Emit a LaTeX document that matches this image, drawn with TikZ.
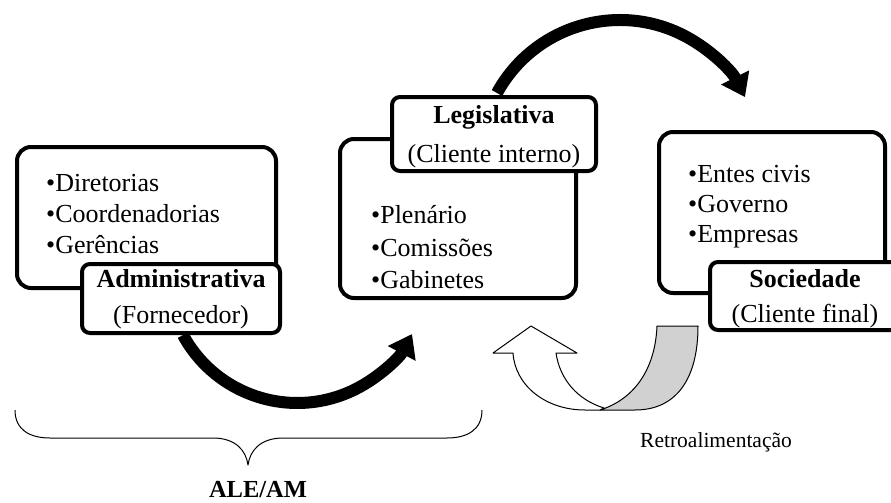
\documentclass[tikz,border=0pt]{standalone}
\usepackage{fontspec}
\setmainfont{Liberation Serif}
\usetikzlibrary{arrows.meta}
\definecolor{bandgray}{rgb}{0.82,0.82,0.82}
\begin{document}
\begin{tikzpicture}[x=1pt,y=-1pt,
  bigbox/.style={draw, line width=4pt, rounded corners=14pt, fill=white, inner sep=0pt},
  tagbox/.style={draw, line width=4pt, rounded corners=8pt, fill=white, inner sep=0pt},
  item/.style={anchor=base west, inner sep=0pt, font=\fontsize{26}{30}\selectfont},
  tagtitle/.style={anchor=base, inner sep=0pt, font=\fontsize{26}{30}\selectfont\bfseries},
  tagsub/.style={anchor=base, inner sep=0pt, font=\fontsize{26}{30}\selectfont},
  flow/.style={line width=12pt, -{Triangle[length=22pt,width=30pt]}},
  outline/.style={line width=1pt, line join=round}
]
\useasboundingbox (0,0) rectangle (891,503);

% thick flow arrows between the stages
\coordinate (f1s) at (183,335);
\coordinate (f2s) at (497,93);
\draw[flow] (f1s) arc[start angle=151.5, end angle=28, radius=130];
\draw[flow] (f2s) arc[start angle=208.6, end angle=333.3, radius=140];

% stage boxes
\node[bigbox, minimum width=259pt, minimum height=141pt] (admbox) at (146.5,217.5) {};
\node[bigbox, minimum width=236pt, minimum height=159pt] (legbox) at (458,218.5) {};
\node[bigbox, minimum width=226pt, minimum height=161pt] (socbox) at (772,212.5) {};

% stage contents
\node[item] (adm1) at (46,191) {•Diretorias};
\node[item] (adm2) at (46,222) {•Coordenadorias};
\node[item] (adm3) at (46,253) {•Gerências};

\node[item] (leg1) at (371,223) {•Plenário};
\node[item] (leg2) at (371,256) {•Comissões};
\node[item] (leg3) at (371,288) {•Gabinetes};

\node[item] (soc1) at (688,182) {•Entes civis};
\node[item] (soc2) at (688,212) {•Governo};
\node[item] (soc3) at (688,242) {•Empresas};

% stage tags
\node[tagbox, minimum width=198pt, minimum height=69pt] (admtag) at (181,298.5) {};
\node[tagtitle] (admt) at (181,287) {Administrativa};
\node[tagsub] (adms) at (181,323) {(Fornecedor)};

\node[tagbox, minimum width=204pt, minimum height=74pt] (legtag) at (494,134) {};
\node[tagtitle] (legt) at (494,123) {Legislativa};
\node[tagsub] (legs) at (494,162) {(Cliente interno)};

\node[tagbox, minimum width=190pt, minimum height=68pt] (soctag) at (805,296) {};
\node[tagtitle] (soct) at (805,287) {Sociedade};
\node[tagsub] (socs) at (805,322) {(Cliente final)};

% feedback arrow: shaded back band, then the white curved-up arrow
\path[outline, draw, fill=bandgray]
  (657,326) -- (698,326)
  .. controls (698,378) and (677,410) .. (635,410)
  -- (600,410)
  .. controls (632,400) and (655,372) .. (657,326) -- cycle;
\path[outline, draw, fill=white]
  (493,353) -- (531,326) -- (577,353) -- (556,353)
  .. controls (560,380) and (578,400) .. (604,408)
  -- (600,410) -- (585,410)
  .. controls (545,410) and (515,385) .. (513,353) -- cycle;
\node[anchor=base west, inner sep=0pt, font=\fontsize{21.5}{25}\selectfont] (retro) at (640,447) {Retroalimentação};

% brace over the two internal stages
\draw[outline] (15,410) .. controls (15,430) and (30,438) .. (50,438)
  -- (213,438) .. controls (235,438) and (246,450) .. (248,465)
  .. controls (250,450) and (261,438) .. (283,438)
  -- (447,438) .. controls (467,438) and (482,430) .. (482,410);
\node[anchor=base, inner sep=0pt, font=\fontsize{24.5}{28}\selectfont\bfseries] (ale) at (258,497) {ALE/AM};
\end{tikzpicture}
\end{document}
